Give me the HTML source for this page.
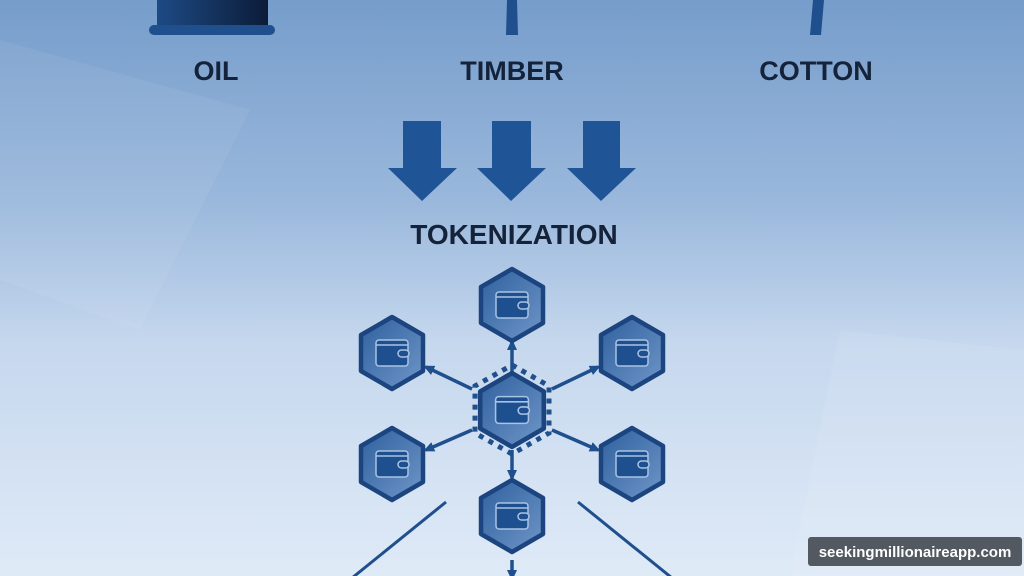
<!DOCTYPE html>
<html><head><meta charset="utf-8"><style>
html,body{margin:0;padding:0;width:1024px;height:576px;overflow:hidden}
body{background:linear-gradient(180deg,#769dcb 0%,#9ab8dc 35%,#c6d8ee 60%,#dfeaf7 100%);font-family:"Liberation Sans",sans-serif}
</style></head><body>
<svg width="1024" height="576" viewBox="0 0 1024 576" style="position:absolute;left:0;top:0">
<defs>
<linearGradient id="oil" x1="0" x2="1"><stop offset="0" stop-color="#1d4a85"/><stop offset="1" stop-color="#0c1c38"/></linearGradient>
<linearGradient id="hx" x1="0" y1="0" x2="1" y2="1"><stop offset="0" stop-color="#2f609e"/><stop offset="1" stop-color="#6f96c8"/></linearGradient>
<symbol id="hex" viewBox="-34 -39 68 78">
<polygon points="0,-36 31,-18 31,18 0,36 -31,18 -31,-18" fill="url(#hx)" stroke="#1c4580" stroke-width="4.5" stroke-linejoin="round"/>
<rect x="-16" y="-13" width="32" height="26" rx="3" fill="#1e4f8e" stroke="#a9c3e3" stroke-width="1.5"/>
<line x1="-16" y1="-8" x2="16" y2="-8" stroke="#a9c3e3" stroke-width="1.5"/>
<rect x="6" y="-3" width="11" height="7" rx="3.5" fill="#1e4f8e" stroke="#a9c3e3" stroke-width="1.5"/>
</symbol>
<marker id="ah" markerWidth="11" markerHeight="10" refX="8" refY="5" orient="auto" markerUnits="userSpaceOnUse"><path d="M0,0 L11,5 L0,10 Z" fill="#1f4f8c"/></marker>
</defs>
<polygon points="0,40 250,110 140,330 0,280" fill="#fff" opacity="0.06"/>
<polygon points="840,330 1024,350 1024,576 790,576" fill="#fff" opacity="0.08"/>
<rect x="157" y="0" width="111" height="27" fill="url(#oil)"/>
<rect x="149" y="25" width="126" height="10" rx="5" fill="#1f4f8c"/>
<polygon points="507,0 517,0 518,35 506,35" fill="#1f4f8c"/>
<polygon points="813,0 824,0 821,35 810,35" fill="#1f4f8c"/>
<g font-weight="bold" font-size="27" fill="#15233a" text-anchor="middle">
<text x="216" y="80">OIL</text>
<text x="512" y="80">TIMBER</text>
<text x="816" y="80">COTTON</text>
<text x="514" y="244" font-size="28">TOKENIZATION</text>
</g>
<g fill="#1f5596">
<path d="M403,121 H441 V168 H457 L422,201 L388,168 H403 Z"/>
<path d="M492,121 H531 V168 H546 L511,201 L477,168 H492 Z"/>
<path d="M583,121 H620 V168 H636 L601,201 L567,168 H583 Z"/>
</g>
<g stroke="#1f4f8c" stroke-width="3.5" marker-end="url(#ah)">
<line x1="512" y1="372" x2="512" y2="342"/>
<line x1="472" y1="389" x2="426" y2="367"/>
<line x1="552" y1="389" x2="598" y2="367"/>
<line x1="472" y1="430" x2="426" y2="450"/>
<line x1="552" y1="430" x2="598" y2="450"/>
<line x1="512" y1="450" x2="512" y2="478"/>
<line x1="512" y1="560" x2="512" y2="578"/>
</g>
<g stroke="#1f4f8c" stroke-width="3">
<line x1="446" y1="502" x2="352" y2="578"/>
<line x1="578" y1="502" x2="672" y2="578"/>
</g>
<polygon points="512,365 549,386 549,433 512,454 475,433 475,386" fill="none" stroke="#1f4f8c" stroke-width="5" stroke-dasharray="5 6"/>
<use href="#hex" x="472" y="370" width="80" height="80"/>
<use href="#hex" x="477" y="266" width="70" height="78"/>
<use href="#hex" x="357" y="314" width="70" height="78"/>
<use href="#hex" x="597" y="314" width="70" height="78"/>
<use href="#hex" x="357" y="425" width="70" height="78"/>
<use href="#hex" x="597" y="425" width="70" height="78"/>
<use href="#hex" x="477" y="477" width="70" height="78"/>
<rect x="808" y="537" width="214" height="29" rx="3" fill="#3a3f47" opacity="0.85"/>
<text x="915" y="557" font-size="15" font-weight="bold" fill="#fff" text-anchor="middle">seekingmillionaireapp.com</text>
</svg>
</body></html>
